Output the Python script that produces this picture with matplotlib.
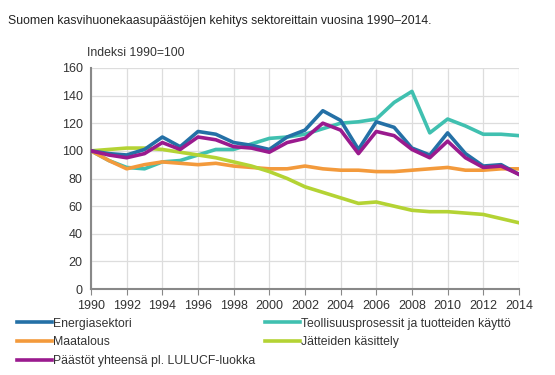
import matplotlib.pyplot as plt

plt.rcParams['font.family'] = ['Liberation Sans', 'DejaVu Sans']

years = list(range(1990, 2015))

energia = [100, 98, 97, 101, 110, 103, 114, 112, 106, 104, 101, 110, 115, 129,
           122, 101, 121, 117, 102, 97, 113, 98, 89, 90, 83]
teollisuus = [100, 93, 88, 87, 92, 93, 97, 101, 101, 105, 109, 110, 112, 116,
              120, 121, 123, 135, 143, 113, 123, 118, 112, 112, 111]
maatalous = [100, 93, 87, 90, 92, 91, 90, 91, 89, 88, 87, 87, 89, 87,
             86, 86, 85, 85, 86, 87, 88, 86, 86, 87, 87]
jatteet = [100, 101, 102, 102, 101, 99, 97, 95, 92, 89, 85, 80, 74, 70,
           66, 62, 63, 60, 57, 56, 56, 55, 54, 51, 48]
yhteensa = [100, 97, 95, 98, 106, 101, 110, 108, 103, 102, 99, 106, 109, 120,
            115, 98, 114, 111, 101, 95, 107, 95, 88, 89, 83]

labels = ['Energiasektori', 'Teollisuusprosessit ja tuotteiden käyttö',
          'Maatalous', 'Jätteiden käsittely',
          'Päästöt yhteensä pl. LULUCF-luokka']
colors = ['#2470a6', '#40c0b0', '#f39a3c', '#b4d334', '#9a1a8e']

fig = plt.figure(figsize=(5.55, 3.75), dpi=100)
ax = fig.add_axes([0.164, 0.229, 0.771, 0.59])

series = [energia, teollisuus, maatalous, jatteet, yhteensa]
handles = {}
for lab, vals, col in zip(labels, series, colors):
    z = 3
    if lab.startswith('Energia'):
        z = 4
    if lab.startswith('Päästöt'):
        z = 5
    line, = ax.plot(years, vals, color=col, lw=2.6, label=lab, zorder=z)
    handles[lab] = line

ax.set_xlim(1990, 2014)
ax.set_ylim(0, 160)
ax.set_xticks(range(1990, 2015, 2))
ax.set_yticks(range(0, 161, 20))
ax.grid(True, color='#dddddd', lw=0.9)
ax.set_axisbelow(True)
for s in ['top', 'right']:
    ax.spines[s].set_visible(False)
for s in ['left', 'bottom']:
    ax.spines[s].set_color('#888888')
    ax.spines[s].set_linewidth(1.5)
ax.tick_params(axis='x', direction='out', length=4, color='#888888',
               labelsize=9, labelcolor='#333333', pad=4)
ax.tick_params(axis='y', length=0, labelsize=9, labelcolor='#333333', pad=6)

fig.text(0.014, 0.945, 'Suomen kasvihuonekaasupäästöjen kehitys sektoreittain vuosina 1990–2014.',
         fontsize=8.8, color='#222222', va='center')
fig.text(0.157, 0.86, 'Indeksi 1990=100', fontsize=8.8, color='#333333', va='center')

col1 = ['Energiasektori', 'Maatalous', 'Päästöt yhteensä pl. LULUCF-luokka']
col2 = ['Teollisuusprosessit ja tuotteiden käyttö', 'Jätteiden käsittely']
legend_kw = dict(loc='upper left', frameon=False, fontsize=8.8,
                 handlelength=2.9, handletextpad=0.1, labelspacing=0.55,
                 borderaxespad=0, borderpad=0)
for names, x0 in [(col1, 0.03), (col2, 0.477)]:
    leg = fig.legend([handles[k] for k in names], names,
                     bbox_to_anchor=(x0, 0.153), **legend_kw)
    for t in leg.get_texts():
        t.set_color('#333333')

fig.savefig('out.png', dpi=100)
